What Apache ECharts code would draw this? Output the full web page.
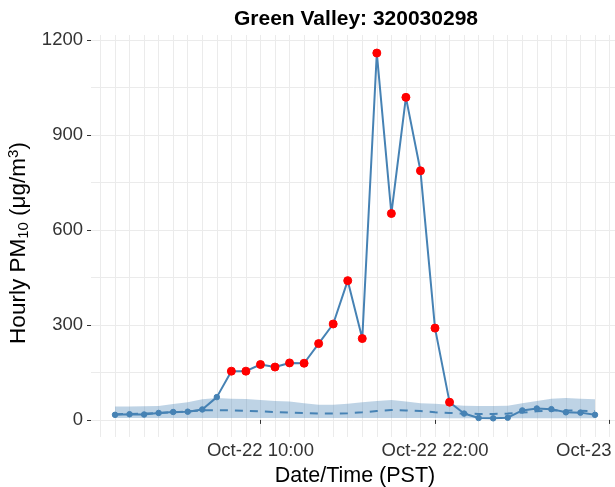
<!DOCTYPE html>
<html>
<head>
<meta charset="utf-8">
<script src="https://cdn.jsdelivr.net/npm/echarts@6/dist/echarts.min.js"></script>
<style>
html,body{margin:0;padding:0;background:#fff;}
#chart{width:615px;height:487px;}
</style>
</head>
<body>
<div id="chart"></div>
<script>
// Hourly timestamps (PST)
var times = [
  '2023-10-22 00:00','2023-10-22 01:00','2023-10-22 02:00','2023-10-22 03:00','2023-10-22 04:00','2023-10-22 05:00',
  '2023-10-22 06:00','2023-10-22 07:00','2023-10-22 08:00','2023-10-22 09:00','2023-10-22 10:00','2023-10-22 11:00',
  '2023-10-22 12:00','2023-10-22 13:00','2023-10-22 14:00','2023-10-22 15:00','2023-10-22 16:00','2023-10-22 17:00',
  '2023-10-22 18:00','2023-10-22 19:00','2023-10-22 20:00','2023-10-22 21:00','2023-10-22 22:00','2023-10-22 23:00',
  '2023-10-23 00:00','2023-10-23 01:00','2023-10-23 02:00','2023-10-23 03:00','2023-10-23 04:00','2023-10-23 05:00',
  '2023-10-23 06:00','2023-10-23 07:00','2023-10-23 08:00','2023-10-23 09:00'
];
// Observed hourly PM10
var pm10 = [16, 18, 17, 22, 25, 26, 33, 72, 154, 154, 175, 167,
            180, 179, 241, 303, 440, 257, 1159, 652, 1019, 787, 290, 56,
            20, 6, 5, 7, 30, 36, 34, 24, 23, 16];
// Flagged (red) hours: 1 = flagged
var flagged = [0,0,0,0,0,0,0,0,1,1,1,1,
               1,1,1,1,1,1,1,1,1,1,1,1,
               0,0,0,0,0,0,0,0,0,0];
// Typical range band (lower / upper) and typical (dashed) value
var bandLower = [6, 6, 6, 6, 6, 6, 6, 6, 6, 6, 6, 6,
                 6, 6, 6, 6, 6, 6, 6, 6, 6, 6, 6, 5,
                 5, 5, 5, 5, 5, 5, 5, 5, 5, 5];
var bandUpper = [42, 42, 43, 44, 50, 56, 65, 69, 67, 66, 63, 60,
                 58, 53, 48, 48, 51, 56, 60, 63, 58, 53, 51, 48,
                 45, 44, 44, 45, 53, 60, 67, 69, 67, 65];
var typical = [18, 19, 20, 22, 24, 27, 30, 31, 30, 29, 27, 25,
               23, 22, 20, 20, 21, 24, 28, 31, 30, 28, 24, 22,
               20, 19, 19, 20, 23, 27, 30, 30, 29, 28];
// Axis ticks
var yTicks = [0, 300, 600, 900, 1200];
var yGrid = [0, 150, 300, 450, 600, 750, 900, 1050, 1200];
var xTickTimes = ['2023-10-22 10:00', '2023-10-22 22:00', '2023-10-23 10:00'];
var xTickLabels = ['Oct-22 10:00', 'Oct-22 22:00', 'Oct-23 10:00'];
var xGridTimes = [
  '2023-10-21 23:00','2023-10-22 00:00','2023-10-22 01:00','2023-10-22 02:00','2023-10-22 03:00','2023-10-22 04:00',
  '2023-10-22 05:00','2023-10-22 06:00','2023-10-22 07:00','2023-10-22 08:00','2023-10-22 09:00','2023-10-22 10:00',
  '2023-10-22 11:00','2023-10-22 12:00','2023-10-22 13:00','2023-10-22 14:00','2023-10-22 15:00','2023-10-22 16:00',
  '2023-10-22 17:00','2023-10-22 18:00','2023-10-22 19:00','2023-10-22 20:00','2023-10-22 21:00','2023-10-22 22:00',
  '2023-10-22 23:00','2023-10-23 00:00','2023-10-23 01:00','2023-10-23 02:00','2023-10-23 03:00','2023-10-23 04:00',
  '2023-10-23 05:00','2023-10-23 06:00','2023-10-23 07:00','2023-10-23 08:00','2023-10-23 09:00','2023-10-23 10:00'
];

function ts(s) {
  var p = s.split(/[- :]/).map(Number);
  return Date.UTC(p[0], p[1] - 1, p[2], p[3], p[4]);
}
var t0 = ts(times[0]);
var tN = ts(times[times.length - 1]);
var span = tN - t0;

var typicalData = times.map(function (t, i) { return [ts(t), typical[i]]; });
var obsData = times.map(function (t, i) {
  var item = {value: [ts(t), pm10[i]]};
  if (flagged[i]) {
    item.symbolSize = 8;
    item.itemStyle = {color: '#ff0000', borderColor: '#ff0000', borderWidth: 1};
  }
  return item;
});
// band rows: [time, lower, upper]
var bandData = times.map(function (t, i) { return [ts(t), bandLower[i], bandUpper[i]]; });

var labelMap = {};
xTickTimes.forEach(function (t, i) { labelMap[ts(t)] = xTickLabels[i]; });

var FONT = 'Liberation Sans, Arial, sans-serif';
var steel = '#4682B4';

function renderBand(params, api) {
  if (params.dataIndex !== 0) return null;
  var top = [], bottom = [];
  for (var i = 0; i < bandData.length; i++) {
    top.push(api.coord([bandData[i][0], bandData[i][2]]));
    bottom.push(api.coord([bandData[i][0], bandData[i][1]]));
  }
  var pts = top.concat(bottom.reverse());
  return {
    type: 'polygon',
    shape: {points: pts},
    style: {fill: 'rgba(70,130,180,0.35)', stroke: 'none'},
    silent: true
  };
}

var chart = echarts.init(document.getElementById('chart'), null, {renderer: 'canvas'});
chart.setOption({
  animation: false,
  backgroundColor: '#ffffff',
  title: {
    text: 'Green Valley: 320030298',
    left: 351, top: 4, textAlign: 'center',
    textStyle: {fontFamily: FONT, fontWeight: 'bold', fontSize: 21, color: '#000'}
  },
  grid: {left: 91, top: 35, width: 528, height: 402, containLabel: false, outerBoundsMode: 'none'},
  xAxis: {
    type: 'value',
    min: t0 - 0.05 * span,
    max: tN + 0.05 * span,
    name: 'Date/Time (PST)',
    nameLocation: 'middle',
    nameGap: 18,
    nameTextStyle: {fontFamily: FONT, fontSize: 21.5, color: '#000'},
    axisLine: {show: false},
    axisTick: {show: true, customValues: xTickTimes.map(ts), length: 4, lineStyle: {color: '#333', width: 1}},
    axisLabel: {
      customValues: xTickTimes.map(ts),
      showMinLabel: true, showMaxLabel: true, hideOverlap: false,
      fontFamily: FONT, fontSize: 18.5, color: '#333', margin: 4,
      formatter: function (v) { return labelMap[v] || ''; }
    },
    splitLine: {show: false}
  },
  yAxis: {
    type: 'value',
    min: -54,
    max: 1216,
    name: '{n|Hourly PM}{sub|10}{n| (μg/m}{sup|3}{n|)}',
    nameLocation: 'middle',
    nameGap: 43,
    nameRotate: 90,
    nameTextStyle: {
      fontFamily: FONT, fontSize: 22.5, color: '#000', padding: [0, 14, 0, 0],
      rich: {
        n: {fontFamily: FONT, fontSize: 22.5, color: '#000'},
        sub: {fontFamily: FONT, fontSize: 15, color: '#000', verticalAlign: 'bottom', padding: [10, 0, 0, 0]},
        sup: {fontFamily: FONT, fontSize: 15, color: '#000', verticalAlign: 'top', padding: [0, 0, 10, 0]}
      }
    },
    axisLine: {show: false},
    axisTick: {show: true, customValues: yTicks, length: 4, lineStyle: {color: '#333', width: 1}},
    axisLabel: {
      customValues: yTicks, fontFamily: FONT, fontSize: 18.5, color: '#333', margin: 8,
      formatter: function (v) { return String(v); }
    },
    splitLine: {show: false}
  },
  series: [
    {
      type: 'custom', data: bandData, renderItem: renderBand, silent: true, z: 1,
      encode: {x: 0, y: [1, 2]},
      markLine: {
        silent: true, symbol: 'none', label: {show: false}, animation: false, z: 0,
        lineStyle: {color: '#ebebeb', width: 1, type: 'solid'},
        data: yGrid.map(function (v) { return {yAxis: v}; })
          .concat(xGridTimes.map(function (t) { return {xAxis: ts(t)}; }))
      }
    },
    {
      type: 'line', data: typicalData, symbol: 'none',
      lineStyle: {color: steel, width: 2, type: [8, 7]}, z: 2
    },
    {
      type: 'line', data: obsData, symbol: 'circle', symbolSize: 5.5, showAllSymbol: true,
      itemStyle: {color: steel, borderColor: steel, borderWidth: 1}, lineStyle: {color: steel, width: 2}, z: 3
    }
  ]
});
</script>
</body>
</html>
